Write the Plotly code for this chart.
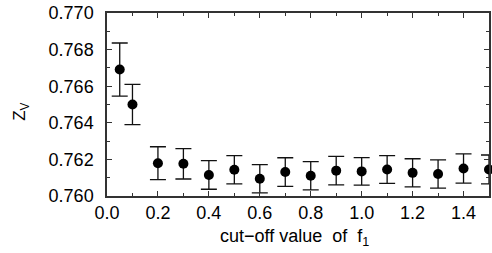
import plotly.graph_objects as go

cutoff = [0.05, 0.1, 0.2, 0.3, 0.4, 0.5, 0.6, 0.7, 0.8, 0.9, 1.0, 1.1, 1.2, 1.3, 1.4, 1.5]
zv = [0.76691, 0.76500, 0.76179, 0.76176, 0.76115, 0.761435, 0.760945, 0.76131,
      0.761105, 0.761385, 0.761345, 0.761445, 0.761265, 0.761205, 0.761505, 0.76145]
zv_err = [0.00145, 0.0011, 0.0009, 0.00083, 0.00078, 0.00077, 0.00077, 0.00078,
          0.00077, 0.00078, 0.00075, 0.00076, 0.00077, 0.00077, 0.0008, 0.00079]

FONT = "Liberation Sans, Arial, Helvetica, sans-serif"
AXC = "#333333"

fig = go.Figure()
fig.add_trace(go.Scatter(
    x=cutoff, y=zv, mode="markers",
    marker=dict(color="black", size=10, symbol="circle"),
    error_y=dict(type="data", array=zv_err, visible=True, color="#111111",
                 thickness=1.3, width=8),
    cliponaxis=False, showlegend=False,
))

axis_common = dict(
    showline=True, linecolor=AXC, linewidth=1.5, mirror="ticks",
    ticks="inside", ticklen=5, tickwidth=1.2, tickcolor=AXC,
    showgrid=False, zeroline=False,
    tickfont=dict(family=FONT, size=18, color="black"),
)

fig.update_xaxes(range=[0, 1.5], dtick=0.2, tick0=0, tickformat=".1f",
                 minor=dict(dtick=0.1, ticks="inside", ticklen=3, tickcolor=AXC, showgrid=False),
                 **axis_common)
fig.update_yaxes(range=[0.760, 0.770], dtick=0.002, tick0=0.760, tickformat=".3f",
                 minor=dict(dtick=0.001, ticks="inside", ticklen=3, tickcolor=AXC, showgrid=False),
                 ticklabelstandoff=8,
                 **axis_common)

fig.add_annotation(text="cut\u2212off value  of  f<sub>1</sub>", xref="paper", yref="paper",
                   x=0.49, y=-0.225, xanchor="center", yanchor="middle", showarrow=False,
                   font=dict(family=FONT, size=18, color="black"))
fig.add_annotation(text="Z<sub>V</sub>", xref="paper", yref="paper",
                   x=-0.225, y=0.46, xanchor="center", yanchor="middle", showarrow=False,
                   textangle=-90, font=dict(family=FONT, size=17, color="black"))

fig.update_layout(
    width=492, height=253,
    margin=dict(l=107, r=1, t=13, b=57),
    paper_bgcolor="white", plot_bgcolor="white",
    font=dict(family=FONT),
)

fig.write_html("out.html", config={"displayModeBar": False},
               post_script="document.body.style.margin='0';document.body.style.padding='0';document.body.style.overflow='hidden';")
